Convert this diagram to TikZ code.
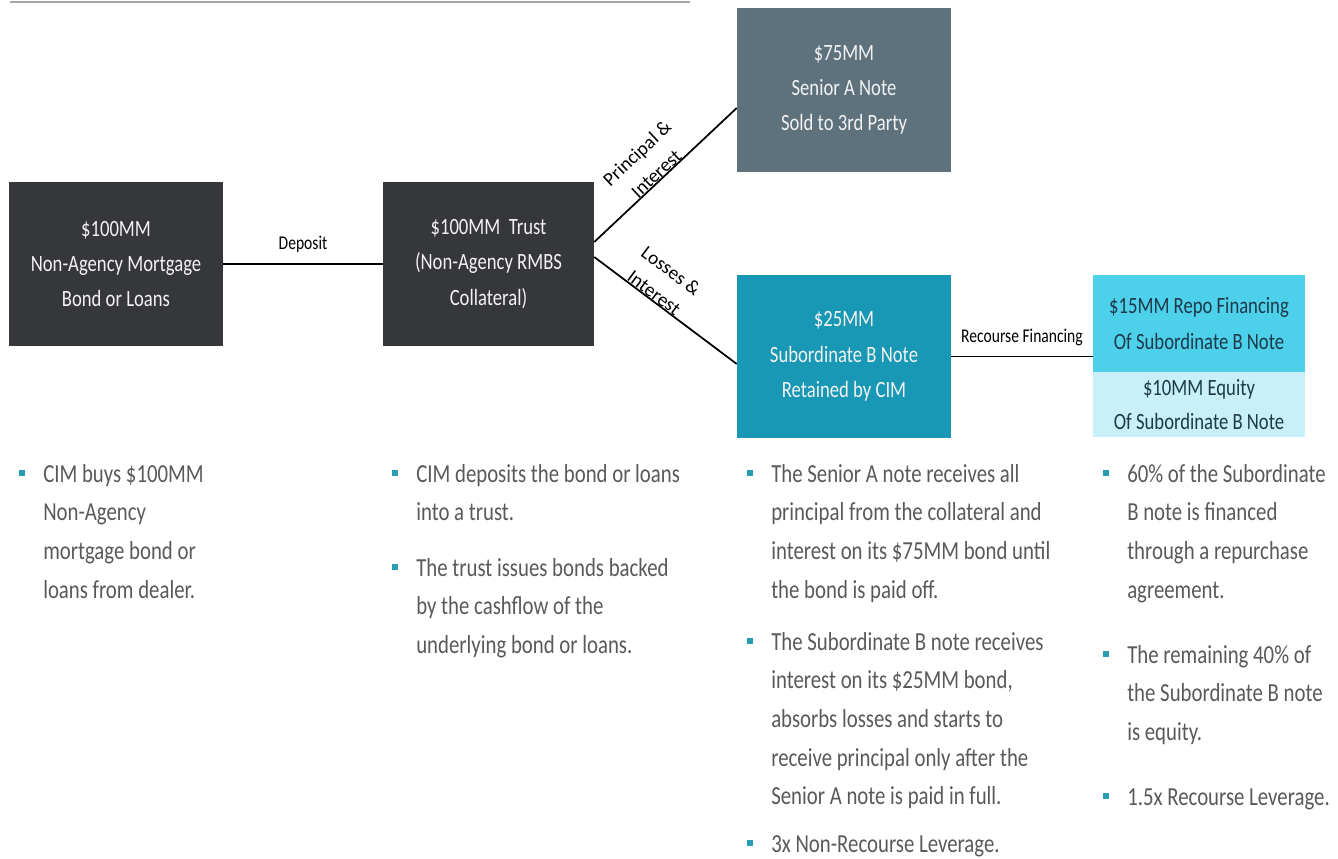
\documentclass[tikz,border=0pt]{standalone}
\usepackage{fontspec}
\setmainfont{Carlito}[FakeStretch=0.8]
\newfontfamily\plainfont{Carlito}
\definecolor{darkbox}{HTML}{36373B}
\definecolor{seniorbox}{HTML}{5D727C}
\definecolor{subbox}{HTML}{1898B4}
\definecolor{repobox}{HTML}{4DD0EA}
\definecolor{eqbox}{HTML}{C9EFF8}
\definecolor{boxtext}{HTML}{F2F2F2}
\definecolor{repotext}{HTML}{1E3A4A}
\definecolor{bodytext}{HTML}{595959}
\definecolor{bullet}{HTML}{2A9DB5}
\definecolor{rulegray}{HTML}{A6A6A6}
\tikzset{
  box/.style={rectangle, draw=none, inner sep=0pt, align=center, text=boxtext,
    minimum width=160.5pt, minimum height=123pt,
    font=\fontsize{17.5}{26.5}\selectfont},
  lightbox/.style={box, text=repotext, minimum width=159pt},
  conn/.style={line width=1.3pt, black},
  connlabel/.style={font=\fontsize{14.6}{17}\selectfont, text=black, inner sep=0pt},
  slantlabel/.style={font=\plainfont\fontsize{14.5}{21}\selectfont, text=black, inner sep=0pt,
    align=center, sloped, anchor=south, text depth=0pt},
  bsq/.style={rectangle, fill=bullet, inner sep=0pt, minimum width=4.8pt, minimum height=5.2pt},
  para/.style={inner sep=0pt, align=left, text=bodytext, anchor=north west, yshift=17pt,
    font=\fontsize{19.5}{29}\selectfont}
}
\newcommand\bulletpara[5]{%
  \node[bsq] (#1b) at (#4,#3-9) {};
  \node[para] (#1) at (#2,#3) {\rule{0pt}{17pt}#5};
}
\begin{document}
\begin{tikzpicture}[x=0.75pt,y=-0.75pt]
\useasboundingbox (0,0) rectangle (1338,859);
% top rule
\coordinate (ruleL) at (10,2);
\coordinate (ruleR) at (690,2);
\draw[rulegray, line width=2pt] (ruleL) -- (ruleR);

% boxes
\node[box, fill=darkbox] (b1) at (116,264) {\$100MM\\Non-Agency Mortgage\\Bond or Loans};
\node[box, fill=darkbox, minimum width=158.25pt] (b2) at (488.5,264) {\$100MM~~Trust\\(Non-Agency RMBS\\Collateral)};
\node[box, fill=seniorbox] (senA) at (844,90) {\$75MM\\Senior A Note\\Sold to 3rd Party};
\node[box, fill=subbox, minimum height=122.25pt] (subB) at (844,356.5) {\$25MM\\Subordinate B Note\\Retained by CIM};
\node[lightbox, fill=repobox, minimum height=72.75pt] (repo) at (1199,323.5) {\$15MM Repo Financing\\Of Subordinate B Note};
\node[lightbox, fill=eqbox, minimum height=48.75pt, font=\fontsize{17.5}{25.5}\selectfont] (eq) at (1199,404.5) {\$10MM Equity\\Of Subordinate B Note};

% connectors
\draw[conn] (b1.east) -- node[connlabel, midway, yshift=15pt] {Deposit} (b2.west);
\draw[conn] ([yshift=16.5pt]b2.east) -- node[slantlabel, pos=0.47] {Principal \&\\Interest} ([yshift=-13.5pt]senA.west);
\draw[conn] ([yshift=5.25pt]b2.east) -- node[slantlabel, pos=0.39] {Losses \&\\Interest} ([yshift=-5.6pt]subB.west);
\draw[conn] (subB.east) -- node[connlabel, midway, yshift=14.25pt] {Recourse Financing} (subB.east -| repo.west);

% bullet text
\bulletpara{p1}{43}{482}{22}{CIM buys \$100MM\\Non-Agency\\mortgage bond or\\loans from dealer.}
\bulletpara{p2}{416}{482}{395}{CIM deposits the bond or loans\\into a trust.}
\bulletpara{p3}{416}{576}{395}{The trust issues bonds backed\\by the cashflow of the\\underlying bond or loans.}
\bulletpara{p4}{771}{482}{750}{The Senior A note receives all\\principal from the collateral and\\interest on its \$75MM bond until\\the bond is paid off.}
\bulletpara{p5}{771}{650}{750}{The Subordinate B note receives\\interest on its \$25MM bond,\\absorbs losses and starts to\\receive principal only after the\\Senior A note is paid in full.}
\bulletpara{p6}{771}{852}{750}{3x Non-Recourse Leverage.}
\bulletpara{p7}{1127}{482}{1106}{60\% of the Subordinate\\B note is financed\\through a repurchase\\agreement.}
\bulletpara{p8}{1127}{663}{1106}{The remaining 40\% of\\the Subordinate B note\\is equity.}
\bulletpara{p9}{1127}{805}{1106}{1.5x Recourse Leverage.}
\end{tikzpicture}
\end{document}
